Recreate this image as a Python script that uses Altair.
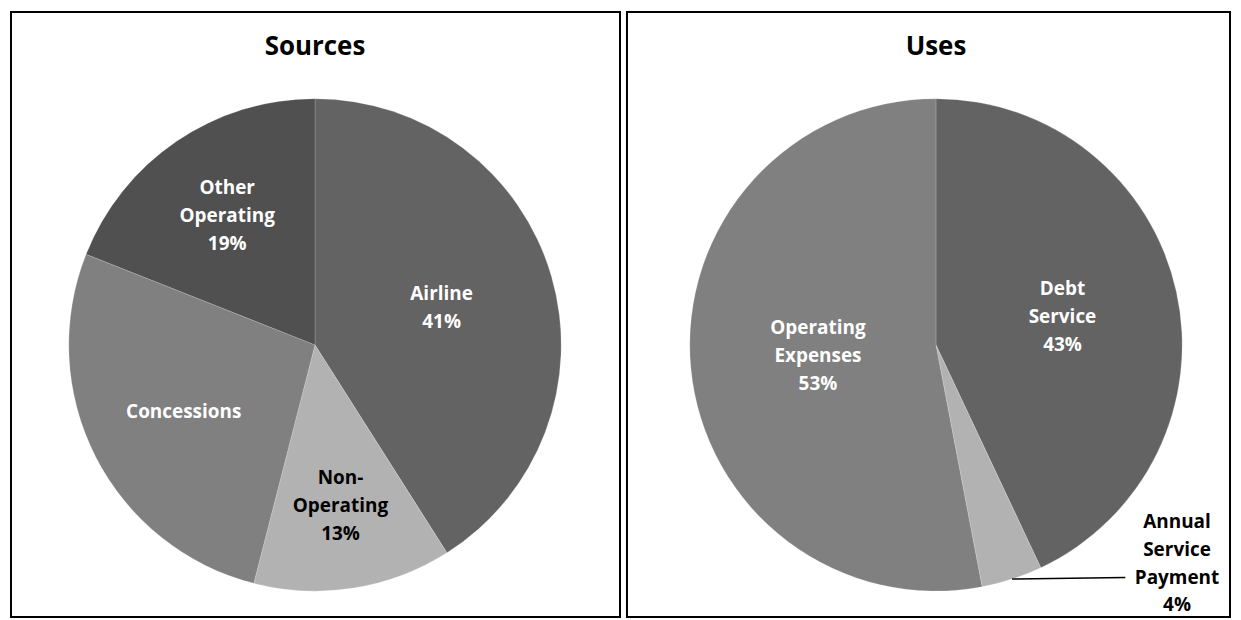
import altair as alt
import numpy as np
import pandas as pd

# ---- data ----
src_names = ["Airline", "Non-Operating", "Concessions", "Other Operating"]
src_values = [41, 13, 27, 19]
src_labels = ["Airline\n41%", "Non-\nOperating\n13%", "Concessions", "Other\nOperating\n19%"]

use_names = ["Debt Service", "Annual Service Payment", "Operating Expenses"]
use_values = [43, 4, 53]
use_labels = ["Debt\nService\n43%", "Annual\nService\nPayment\n4%", "Operating\nExpenses\n53%"]

# ---- style ----
palette = {
    "Airline": "#636363",
    "Non-Operating": "#b2b2b2",
    "Concessions": "#808080",
    "Other Operating": "#505050",
    "Debt Service": "#636363",
    "Annual Service Payment": "#b2b2b2",
    "Operating Expenses": "#808080",
}
FONT = "Open Sans"
LABEL_SIZE = 19
LINE_H = 28


def lum(hexc):
    h = hexc.lstrip("#")
    r, g, b = (int(h[i:i + 2], 16) / 255 for i in (0, 2, 4))
    return 0.299 * r + 0.587 * g + 0.114 * b


def nlines(s):
    return s.count("\n") + 1


def panel(title, names, values, labels, W, H, cx, cy, R):
    vals = np.array(values, dtype=float)
    total = vals.sum()
    cum = np.cumsum(vals)
    mid = 2 * np.pi * (cum - vals / 2) / total
    share = vals / total
    df = pd.DataFrame({"name": names, "value": values, "label": labels,
                       "order": list(range(len(names))), "mid": mid, "share": share})
    df["tcolor"] = ["black" if lum(palette[n]) > 0.6 else "white" for n in names]
    # first line of a multi-line text sits on the anchor: shift so block is centred
    df["shift"] = [(nlines(s) - 1) / 2 * LINE_H / R for s in labels]

    xs = alt.Scale(domain=[-cx / R, (W - cx) / R], nice=False, zero=False)
    ys = alt.Scale(domain=[-(H - cy) / R, cy / R], nice=False, zero=False)

    arcs = alt.Chart(df).mark_arc(radius=R, stroke="white", strokeWidth=0.6,
                                   strokeOpacity=0.3).encode(
        theta=alt.Theta("value:Q", stack=True),
        order=alt.Order("order:Q"),
        color=alt.Color("name:N", scale=alt.Scale(domain=names,
                                                   range=[palette[n] for n in names]),
                        legend=None),
        x=alt.value(cx),
        y=alt.value(cy),
    )

    layers = [arcs]

    din = df[df["share"] >= 0.05].copy()
    k = 0.72 - 0.45 * din["share"]
    din["u"] = k * np.sin(din["mid"])
    din["v"] = k * np.cos(din["mid"]) + din["shift"]
    layers.append(
        alt.Chart(din).mark_text(font=FONT, fontSize=LABEL_SIZE, fontWeight="bold",
                                 lineBreak="\n", lineHeight=LINE_H,
                                 align="center", baseline="middle").encode(
            x=alt.X("u:Q", scale=xs, axis=None),
            y=alt.Y("v:Q", scale=ys, axis=None),
            text="label:N",
            color=alt.Color("tcolor:N", scale=None),
        )
    )

    dout = df[df["share"] < 0.05].copy()
    if len(dout):
        rows = []
        trows = []
        for _, r in dout.iterrows():
            su, sv = np.sin(r["mid"]), np.cos(r["mid"])
            eu = su + 0.46
            rows.append({"name": r["name"], "u": su, "v": sv, "i": 0})
            rows.append({"name": r["name"], "u": eu, "v": sv + 0.006, "i": 1})
            # leader meets the third line of the label
            trows.append({"name": r["name"], "label": r["label"],
                          "u": eu + 0.21, "v": sv + 0.006 + 2 * LINE_H / R})
        dl = pd.DataFrame(rows)
        dt = pd.DataFrame(trows)
        layers.append(
            alt.Chart(dl).mark_line(color="black", strokeWidth=1.6).encode(
                x=alt.X("u:Q", scale=xs, axis=None),
                y=alt.Y("v:Q", scale=ys, axis=None),
                detail="name:N",
                order="i:Q",
            )
        )
        layers.append(
            alt.Chart(dt).mark_text(font=FONT, fontSize=LABEL_SIZE, fontWeight="bold",
                                    lineBreak="\n", lineHeight=LINE_H, color="black",
                                    align="center", baseline="middle").encode(
                x=alt.X("u:Q", scale=xs, axis=None),
                y=alt.Y("v:Q", scale=ys, axis=None),
                text="label:N",
            )
        )

    layers.append(
        alt.Chart(pd.DataFrame({"t": [title]})).mark_text(
            font=FONT, fontSize=26, fontWeight="bold", color="black",
            align="center", baseline="middle").encode(
            text="t:N", x=alt.value(cx), y=alt.value(35))
    )
    return alt.layer(*layers).properties(width=W, height=H)


p1 = panel("Sources", src_names, src_values, src_labels, 611, 607, 305, 334, 247)
p2 = panel("Uses", use_names, use_values, use_labels, 605, 607, 310, 334, 247)

chart = alt.hconcat(p1, p2, spacing=5).properties(
    padding=2, background="white"
).configure_view(stroke="black", strokeWidth=2, fill="white")

chart.save("out.html", embed_options={"renderer": "svg", "actions": False})
